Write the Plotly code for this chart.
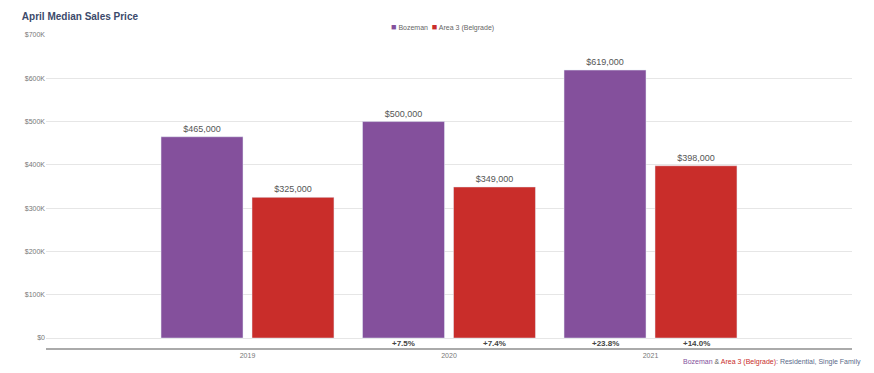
import plotly.graph_objects as go

years = ["2019", "2020", "2021"]
bozeman = [465000, 500000, 619000]
belgrade = [325000, 349000, 398000]
bozeman_chg = ["", "+7.5%", "+23.8%"]
belgrade_chg = ["", "+7.4%", "+14.0%"]
ytick_vals = [0, 100000, 200000, 300000, 400000, 500000, 600000, 700000]
ytick_text = ["$0", "$100K", "$200K", "$300K", "$400K", "$500K", "$600K", "$700K"]

purple = "#84509c"
red = "#c92d2a"

fig = go.Figure()
fig.add_trace(go.Bar(
    name="Bozeman", x=years, y=bozeman, marker_color=purple,
    text=[f"${v:,.0f}" for v in bozeman], textposition="outside",
    textfont=dict(size=9, color="#555555"), cliponaxis=False, showlegend=False))
fig.add_trace(go.Bar(
    name="Area 3 (Belgrade)", x=years, y=belgrade, marker_color=red,
    text=[f"${v:,.0f}" for v in belgrade], textposition="outside",
    textfont=dict(size=9, color="#555555"), cliponaxis=False, showlegend=False))

for i, (a, b) in enumerate(zip(bozeman_chg, belgrade_chg)):
    for txt, shift in ((a, -45.5), (b, 45.5)):
        if txt:
            fig.add_annotation(x=i, y=0, xref="x", yref="y", text=f"<b>{txt}</b>",
                               showarrow=False, xshift=shift, yshift=-5, yanchor="middle",
                               font=dict(size=8, color="#444444", family="Arial"))

# legend
fig.add_annotation(
    xref="paper", yref="paper", x=0.492, y=1.025, xanchor="center", yanchor="middle",
    showarrow=False,
    text=(f"<span style='color:{purple};font-size:9px'>■</span> Bozeman  "
          f"<span style='color:{red};font-size:9px'>■</span> Area 3 (Belgrade)"),
    font=dict(size=7, color="#666666", family="Arial"))

fig.add_annotation(
    xref="paper", yref="paper", x=1.014, y=-0.025, xanchor="right", yanchor="top",
    showarrow=False,
    text=(f"<span style='color:{purple}'>Bozeman</span>"
          "<span style='color:#666'> &amp; </span>"
          f"<span style='color:{red}'>Area 3 (Belgrade)</span>"
          "<span style='color:#5a6a8a'>: Residential, Single Family</span>"),
    font=dict(size=7, family="Arial"))

fig.update_layout(
    width=874, height=373,
    margin=dict(l=46, r=22, t=35, b=25),
    paper_bgcolor="white", plot_bgcolor="white",
    font=dict(family="Arial", size=7, color="#777777"),
    title=dict(text="<b>April Median Sales Price</b>", x=0.025, xanchor="left",
               y=0.955, yanchor="middle", font=dict(size=10, color="#3b4a6b", family="Arial")),
    barmode="group", bargap=0.097, bargroupgap=0.099,
    showlegend=False,
)
fig.update_xaxes(type="category", range=[-1, 3], showline=True, linecolor="#aaaaaa", linewidth=1.5,
                 ticks="", tickfont=dict(size=7, color="#777777"), showgrid=False)
fig.update_yaxes(range=[-23000, 700000], tickvals=ytick_vals, ticktext=ytick_text,
                 showgrid=True, gridcolor="#e6e6e6", gridwidth=1, zeroline=True,
                 zerolinecolor="#e6e6e6", zerolinewidth=1,
                 tickfont=dict(size=7, color="#777777"))

fig.write_html("out.html", config={"displayModeBar": False},
               post_script="document.body.style.margin='0';")
